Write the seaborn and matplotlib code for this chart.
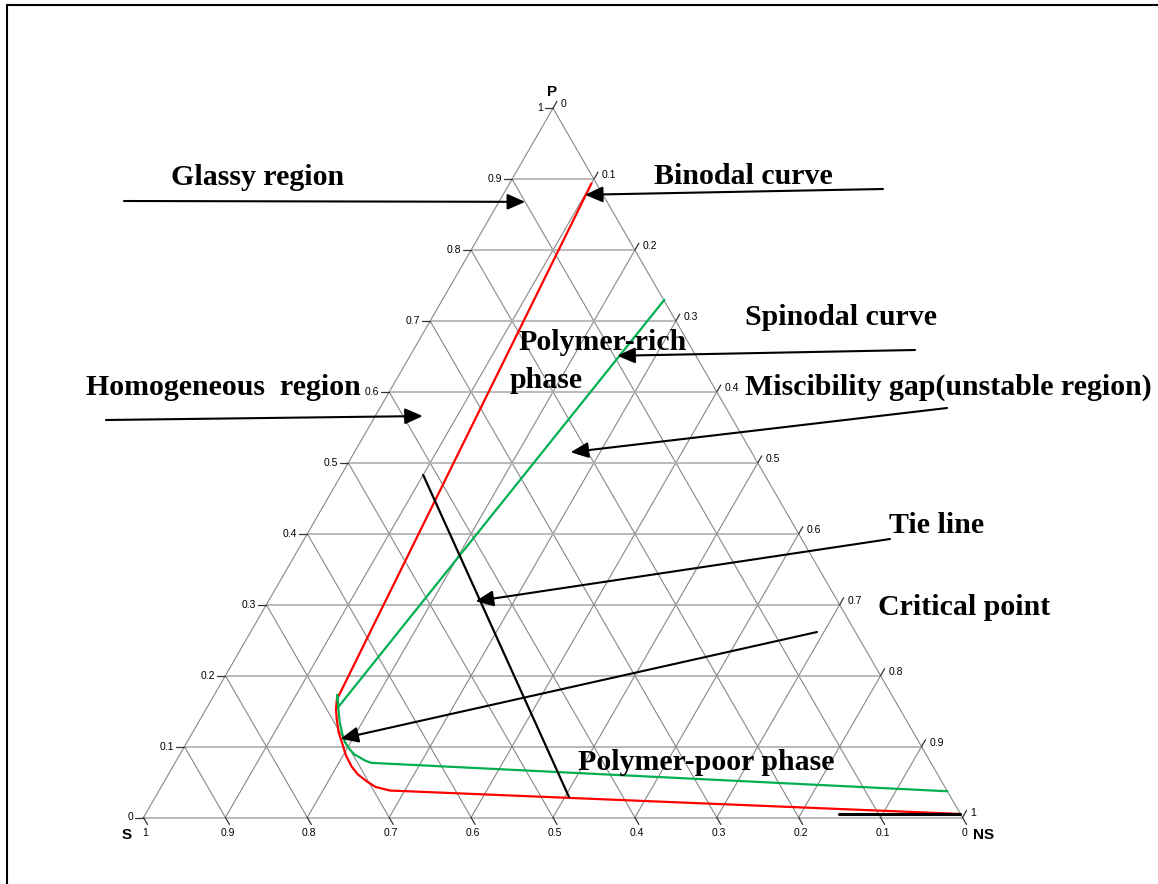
import numpy as np
import pandas as pd
import matplotlib.pyplot as plt
import seaborn as sns
from matplotlib.lines import Line2D

sns.set_style("white")
plt.rcParams["font.family"] = ["Liberation Sans", "DejaVu Sans"]
plt.rcParams["text.color"] = "black"

# compositions: fraction of P and NS (S = 1 - P - NS)
binodal_p = [0.894, 0.166, 0.152, 0.138, 0.1205, 0.105, 0.088, 0.072, 0.061, 0.051, 0.043, 0.038, 0.005]
binodal_ns = [0.100, 0.153, 0.159, 0.167, 0.178, 0.190, 0.203, 0.218, 0.231, 0.247, 0.262, 0.282, 0.995]

spinodal_p = [0.730, 0.156, 0.173, 0.152, 0.135, 0.119, 0.106, 0.095, 0.089, 0.084, 0.080, 0.077, 0.037]
spinodal_ns = [0.271, 0.160, 0.150, 0.162, 0.172, 0.183, 0.193, 0.205, 0.213, 0.223, 0.231, 0.240, 0.963]

tie_p = [0.483, 0.029]
tie_ns = [0.100, 0.505]

base_p = [0.005, 0.005]
base_ns = [0.847, 0.994]

grid_values = [0.0, 0.1, 0.2, 0.3, 0.4, 0.5, 0.6, 0.7, 0.8, 0.9, 1.0]
grid_labels = ["0", "0.1", "0.2", "0.3", "0.4", "0.5", "0.6", "0.7", "0.8", "0.9", "1"]

# annotation text and the composition each arrow points at
notes = [
    ("Glassy region", 0.868, 0.032),
    ("Binodal curve", 0.878, 0.100),
    ("Spinodal curve", 0.651, 0.253),
    ("Homogeneous  region", 0.566, 0.058),
    ("Miscibility gap(unstable region)", 0.515, 0.264),
    ("Tie line", 0.305, 0.253),
    ("Critical point", 0.111, 0.185),
]

# layout (pixels in the 1158x884 image): text anchor, arrow tail
note_text_px = [(171, 185), (654, 184), (745, 325), (86, 395), (745, 395), (889, 533), (878, 615)]
note_tail_px = [(124, 201), (883, 189), (915, 350), (106, 420), (947, 408), (890, 539), (817, 632)]

R3 = np.sqrt(3) / 2
SIDE = 819.0
OX, OY = 143.5, 817.5


def tern(p, ns):
    p = np.asarray(p, dtype=float)
    ns = np.asarray(ns, dtype=float)
    return ns + p / 2, p * R3


def px(x, y):
    return (x - OX) / SIDE, (OY - y) / SIDE


fig = plt.figure(figsize=(11.58, 8.84), dpi=100)
ax = fig.add_axes([0, 0, 1, 1])
ax.set_xlim(-OX / SIDE, (1158 - OX) / SIDE)
ax.set_ylim(-(884 - OY) / SIDE, OY / SIDE)
ax.axis("off")

# grid (including the triangle edges)
hcol, scol = "#b4b4b4", "#888888"
for v in grid_values[:-1]:
    x, y = tern([v, v], [0, 1 - v])
    ax.plot(x, y, color=hcol, lw=1.3, zorder=1)
    x, y = tern([0, 1 - v], [v, v])
    ax.plot(x, y, color=scol, lw=0.8, zorder=1)
    x, y = tern([0, 1 - v], [1 - v, 0])
    ax.plot(x, y, color=scol, lw=0.8, zorder=1)

# ticks and tick labels
tl = 8 / SIDE
c60, s60 = 0.5, R3
for v, lab in zip(grid_values, grid_labels):
    # left edge: P
    x, y = tern(v, 0)
    ax.plot([x - tl, x], [y, y], color="#333333", lw=0.9)
    ax.text(x - 10 / SIDE, y, lab, ha="right", va="center", fontsize=7.5)
    # right edge: NS
    x, y = tern(1 - v, v)
    ax.plot([x, x + tl * c60], [y, y + tl * s60], color="#333333", lw=0.9)
    ax.text(x + 8 / SIDE, y + 4 / SIDE, lab, ha="left", va="center", fontsize=7.5)
    # bottom edge: S
    x, y = tern(0, 1 - v)
    ax.plot([x, x + tl * c60], [y, y - tl * s60], color="#333333", lw=0.9)
    ax.text(x + 2 / SIDE, y - 15.5 / SIDE, lab, ha="center", va="center", fontsize=7.5)

ax.text(*px(552.5, 91.5), "P", ha="center", va="center", fontsize=11, fontweight="bold")
ax.text(*px(127, 835), "S", ha="center", va="center", fontsize=11, fontweight="bold")
ax.text(*px(973, 835), "NS", ha="left", va="center", fontsize=11, fontweight="bold")

# curves
curves = [
    (binodal_p, binodal_ns, "#ff0000", 1.6),
    (spinodal_p, spinodal_ns, "#00b050", 1.6),
    (tie_p, tie_ns, "black", 1.6),
    (base_p, base_ns, "black", 2.2),
]
for cp, cn, col, lw in curves:
    x, y = tern(cp, cn)
    df = pd.DataFrame({"x": x, "y": y})
    sns.lineplot(data=df, x="x", y="y", sort=False, estimator=None,
                 color=col, lw=lw, ax=ax, zorder=3)
ax.axis("off")

# annotations
serif = dict(family=["Liberation Serif", "DejaVu Serif"], fontweight="bold", fontsize=21.5, color="black")
arrow = dict(arrowstyle="-|>,head_length=0.45,head_width=0.2", mutation_scale=24,
             color="black", lw=1.5, shrinkA=0, shrinkB=0)
for (label, tp, tn), tpos, tail in zip(notes, note_text_px, note_tail_px):
    ax.text(*px(*tpos), label, ha="left", va="baseline", **serif)
    tip = tuple(float(a) for a in tern(tp, tn))
    ax.annotate("", xy=tip, xytext=px(*tail), arrowprops=arrow, zorder=5)

ax.text(*px(518, 350), "Polymer-rich", ha="left", va="baseline", **serif)
ax.text(*px(510, 388), "phase", ha="left", va="baseline", **serif)
ax.text(*px(578, 770), "Polymer-poor phase", ha="left", va="baseline", **serif)

# frame on left and top
fx, fy = 7 / 1158, 1 - 5 / 884
fig.add_artist(Line2D([fx, fx], [0, fy], color="black", lw=1.5))
fig.add_artist(Line2D([fx, 1], [fy, fy], color="black", lw=1.5))

fig.savefig("out.png", dpi=100)
